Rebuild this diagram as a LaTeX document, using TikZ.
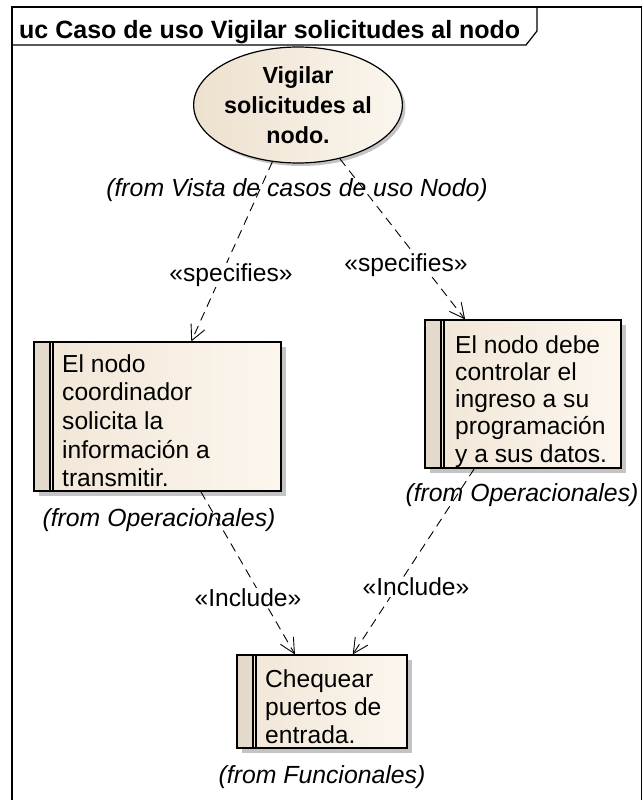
\documentclass[tikz,border=0pt]{standalone}
\usepackage{fontspec}
\setmainfont{Liberation Sans}
\usetikzlibrary{shapes.geometric,arrows.meta,shadows}
\definecolor{boxl}{HTML}{F1E6D6}
\definecolor{boxr}{HTML}{FCF6EE}
\definecolor{stripc}{HTML}{E4DACC}
\definecolor{shadowc}{HTML}{C4C4C4}
\definecolor{ell1}{HTML}{EDE1CE}
\definecolor{ell2}{HTML}{FBF6EE}
\begin{document}
\begin{tikzpicture}[x=1pt,y=-1pt,
  txt/.style={font=\fontsize{24.6}{28.7}\selectfont, inner sep=0pt},
  fromlbl/.style={font=\fontsize{24.8}{29}\selectfont\itshape, inner sep=0pt},
  stereo/.style={font=\fontsize{24.6}{29}\selectfont, inner sep=1pt, fill=white},
  ucbox/.style={draw=black, line width=1.2pt, left color=boxl, right color=boxr,
    inner sep=0pt,
    drop shadow={shadow xshift=5pt, shadow yshift=-5pt, fill=shadowc, opacity=1},
    path picture={
      \fill[stripc] (path picture bounding box.north west) rectangle ([xshift=16pt]path picture bounding box.south west);
      \draw[line width=1.2pt] ([xshift=16pt]path picture bounding box.north west) -- ([xshift=16pt]path picture bounding box.south west);
      \draw[line width=1.2pt] ([xshift=19pt]path picture bounding box.north west) -- ([xshift=19pt]path picture bounding box.south west);
    }},
  dep/.style={draw, line width=0.9pt, dash pattern=on 9pt off 6pt,
    -{Straight Barb[length=15pt,width=15pt,line width=0.9pt]}}
]
\useasboundingbox (0,0) rectangle (644,800);
\clip (0,0) rectangle (644,800);
\fill[white] (0,0) rectangle (644,800);

% frame
\draw[line width=1.2pt] (12,830) -- (12,7) -- (641.5,7) -- (641.5,830);
\draw[line width=1.2pt] (12,45) -- (526,45) -- (537,31) -- (537,7);
\node[anchor=base west, inner sep=0pt, font=\fontsize{25}{29}\selectfont\bfseries] (title) at (19,38) {uc Caso de uso Vigilar solicitudes al nodo};

% use case
\node[ellipse, draw=black, line width=1.2pt, left color=ell1, right color=ell2,
  minimum width=182pt, minimum height=116pt, inner sep=0pt, align=center,
  font=\fontsize{23.3}{30}\selectfont\bfseries,
  drop shadow={shadow xshift=3pt, shadow yshift=-3pt, fill=shadowc, opacity=1}] (uc) at (298,105) {Vigilar\\solicitudes al\\nodo.};
\node[fromlbl] (ucfrom) at (297,190) {(from Vista de casos de uso Nodo)};

% requirement boxes
\node[ucbox, minimum width=247pt, minimum height=149pt] (lbox) at (157.5,416.5) {};
\node[txt, anchor=north west, align=left] (lboxt) at (62,354) {El nodo\\coordinador\\solicita la\\información a\\transmitir.};
\node[fromlbl] (lfrom) at (159,520) {(from Operacionales)};

\node[ucbox, minimum width=196pt, minimum height=148pt] (rbox) at (523,394) {};
\node[txt, anchor=north west, align=left, font=\fontsize{24.6}{27.3}\selectfont] (rboxt) at (455,335) {El nodo debe\\controlar el\\ingreso a su\\programación\\y a sus datos.};
\node[fromlbl] (rfrom) at (522,495) {(from Operacionales)};

\node[ucbox, minimum width=170pt, minimum height=93pt] (bbox) at (322,701.5) {};
\node[txt, anchor=north west, align=left, font=\fontsize{24.6}{28}\selectfont] (bboxt) at (265,669) {Chequear\\puertos de\\entrada.};
\node[fromlbl] (bfrom) at (322,777) {(from Funcionales)};

% connectors
\draw[dep] (uc) -- (lbox);
\draw[dep] (uc) -- (rbox);
\draw[dep] (lbox) -- (bbox);
\draw[dep] (rbox) -- (bbox);

\node[stereo] (s1) at (231,275) {«specifies»};
\node[stereo] (s2) at (406,265) {«specifies»};
\node[stereo] (i1) at (248,598) {«Include»};
\node[stereo] (i2) at (416,587) {«Include»};
\end{tikzpicture}
\end{document}
